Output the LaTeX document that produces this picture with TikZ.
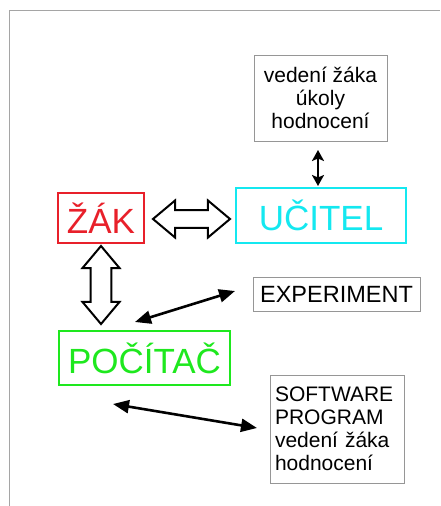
\documentclass[tikz,border=0pt]{standalone}
\usepackage{fontspec}
\setmainfont{Liberation Sans}
\usetikzlibrary{arrows.meta,shapes.arrows}

\definecolor{zakred}{RGB}{232,32,42}
\definecolor{ucitelcyan}{RGB}{20,232,240}
\definecolor{pocgreen}{RGB}{30,232,30}
\definecolor{boxgray}{RGB}{150,150,150}
\definecolor{framegray}{RGB}{165,165,165}

\begin{document}
\begin{tikzpicture}[x=1pt,y=-1pt,
    textbox/.style={draw=boxgray, line width=0.9pt, inner sep=0pt, font=\fontsize{21}{23}\selectfont},
    bigbox/.style={line width=2.8pt, inner sep=0pt, font=\fontsize{35}{40}\selectfont},
    hollow/.style={double arrow, draw, line width=2pt, fill=white, inner xsep=0pt, double arrow tip angle=80},
    thin/.style={line width=2.6pt, {Triangle[length=16pt,width=13pt]}-{Triangle[length=16pt,width=13pt]}}]
    \useasboundingbox (0,0) rectangle (440,506);
    \draw[framegray, line width=1pt] (9,506) -- (9,10) -- (440,10);

    % boxes
    \node[textbox, minimum width=133pt, minimum height=86pt, align=center] (vedeni) at (320.5,98) {vedení žáka\\úkoly\\hodnocení};
    \node[bigbox, draw=zakred, text=zakred, minimum width=86pt, minimum height=50pt] (zak) at (101,218) {ŽÁK};
    \node[bigbox, draw=ucitelcyan, text=ucitelcyan, minimum width=170pt, minimum height=55pt] (ucitel) at (321,215.5) {UČITEL};
    \node[textbox, minimum width=167pt, minimum height=34pt, font=\fontsize{23.5}{26}\selectfont] (experiment) at (336.5,294) {EXPERIMENT};
    \node[bigbox, draw=pocgreen, text=pocgreen, minimum width=171pt, minimum height=54pt] (pocitac) at (144.5,358) {POČÍTAČ};
    \node[textbox, minimum height=108pt, text width=124pt, inner xsep=5pt, align=left] (software) at (337,429) {SOFTWARE\\PROGRAM\\vedení žáka\\hodnocení};

    % hollow arrows
    \node[hollow, inner ysep=5.5pt, minimum width=37pt, minimum height=77pt] (zakucitel) at (191.5,219) {};
    \node[hollow, inner ysep=8pt, minimum width=37pt, minimum height=78pt, rotate=90] (zakpocitac) at (101,285) {};

    % thin arrows
    \coordinate (a1) at (318,150);
    \coordinate (a2) at (318,186);
    \draw[line width=2.6pt, {Stealth[length=11pt,width=12pt,inset=2.5pt]}-{Stealth[length=11pt,width=12pt,inset=2.5pt]}] (a1) -- (a2);
    \coordinate (e1) at (135,322);
    \coordinate (e2) at (235,291);
    \draw[thin] (e1) -- (e2);
    \coordinate (s1) at (113,404);
    \coordinate (s2) at (257,428);
    \draw[thin] (s1) -- (s2);
\end{tikzpicture}
\end{document}
